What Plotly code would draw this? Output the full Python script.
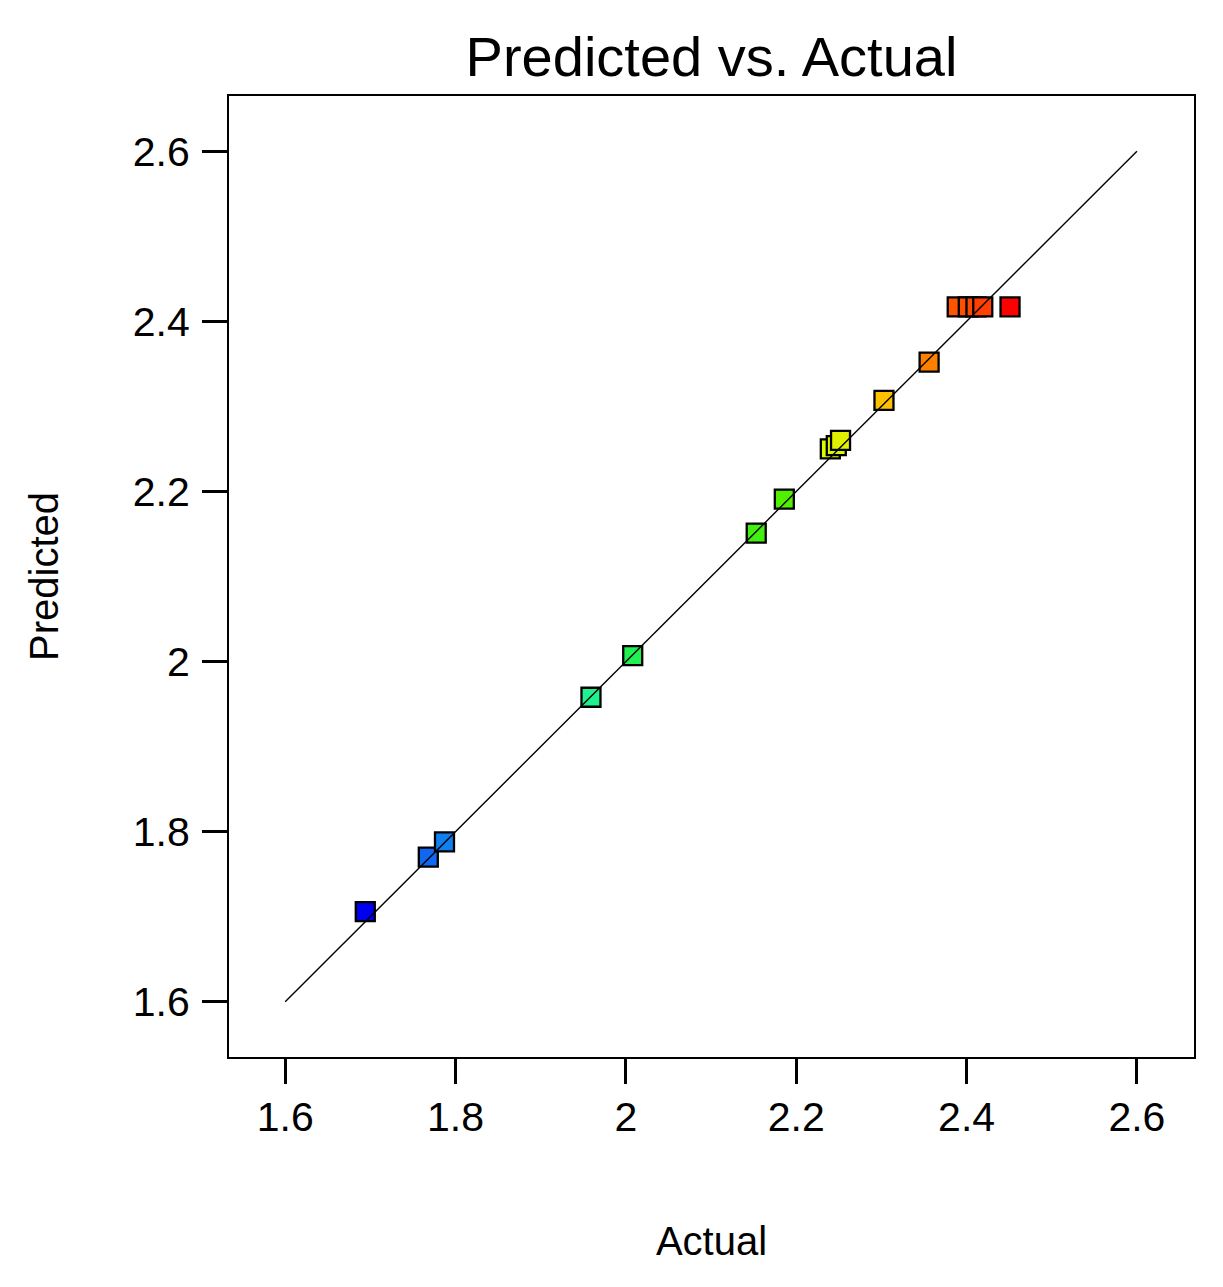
import plotly.graph_objects as go

actual = [1.694, 1.768, 1.787, 1.959, 2.008, 2.153, 2.186, 2.240, 2.247, 2.252,
          2.303, 2.356, 2.389, 2.402, 2.411, 2.419, 2.451]
predicted = [1.706, 1.770, 1.788, 1.958, 2.007, 2.151, 2.191, 2.250, 2.254, 2.260,
             2.307, 2.352, 2.417, 2.417, 2.417, 2.417, 2.417]
colors = ["#0000F0", "#1068F0", "#1080F0", "#20F090", "#20F050", "#40F010", "#50F000",
          "#D8FF00", "#DCF800", "#E0F000", "#FFC000", "#FF8000", "#FF5500", "#FF5000",
          "#FF4800", "#FF4000", "#FF0000"]
line_x = [1.6, 2.6]
line_y = [1.6, 2.6]
tick_vals = [1.6, 1.8, 2.0, 2.2, 2.4, 2.6]
tick_text = ["1.6", "1.8", "2", "2.2", "2.4", "2.6"]

fig = go.Figure()
fig.add_trace(go.Scatter(
    x=actual, y=predicted, mode="markers",
    marker=dict(symbol="square", size=19, color=colors,
                line=dict(color="black", width=2.3)),
    showlegend=False, hoverinfo="x+y"))
fig.add_trace(go.Scatter(
    x=line_x, y=line_y, mode="lines",
    line=dict(color="black", width=1.4), showlegend=False, hoverinfo="skip"))

font_family = "Liberation Sans, Arial, sans-serif"
axis_common = dict(
    showgrid=False, zeroline=False, showline=True, linecolor="black", linewidth=2,
    mirror=True, ticks="outside", ticklen=25, tickwidth=2.5, tickcolor="black",
    tickvals=tick_vals, ticktext=tick_text,
    tickfont=dict(family=font_family, size=41, color="black"),
)
fig.update_layout(
    width=1215, height=1279,
    margin=dict(l=221, r=29, t=88, b=230),
    paper_bgcolor="white", plot_bgcolor="white",
    title=dict(text="Predicted vs. Actual", x=0.5, xref="paper", xanchor="center",
               y=1 - 48 / 1279, yanchor="middle",
               font=dict(family=font_family, size=56, color="black")),
    xaxis=dict(range=[1.534, 2.667], ticklabelstandoff=-2,
               title=dict(text="Actual", standoff=88,
                          font=dict(family=font_family, size=40, color="black")),
               **axis_common),
    yaxis=dict(range=[1.535, 2.665], ticklabelstandoff=4,
               title=dict(text="Predicted", standoff=62,
                          font=dict(family=font_family, size=40, color="black")),
               **axis_common),
)
fig.write_html("out.html")
